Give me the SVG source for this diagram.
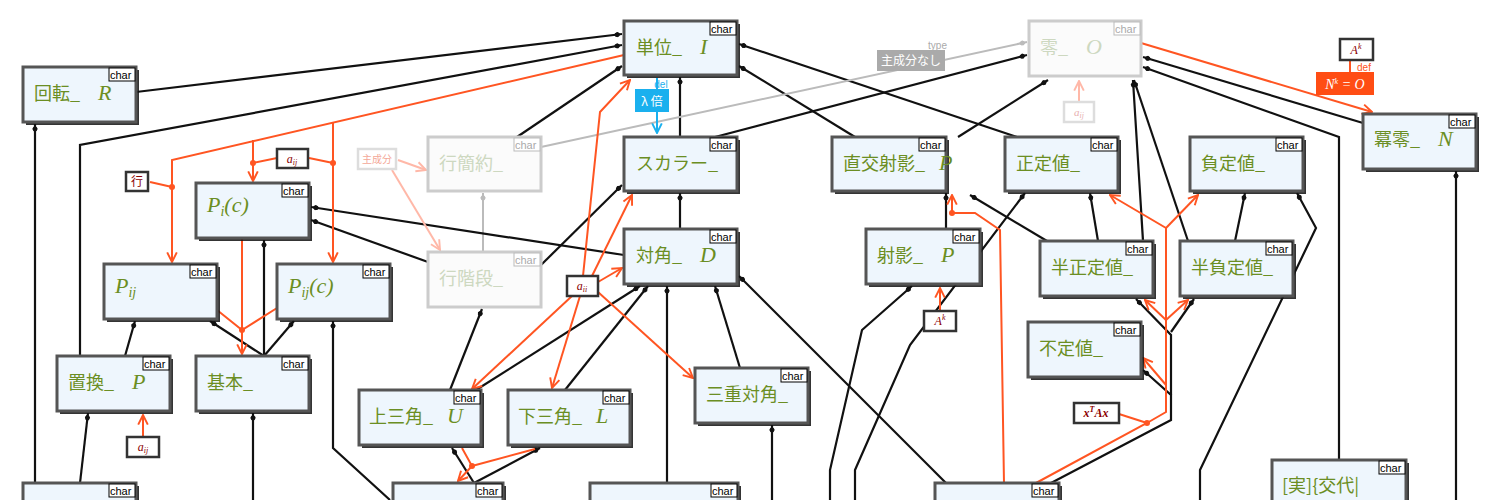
<svg xmlns="http://www.w3.org/2000/svg" width="1500" height="500" viewBox="0 0 1500 500">
<style>
.n rect.b{fill:#eef6fd;stroke:#555;stroke-width:3}
.n rect.s{fill:#111;opacity:.85}
.f rect.b{fill:#fbfbfb;stroke:#ccc;stroke-width:3}
.t{font-family:"Noto Sans CJK JP","Noto Sans",sans-serif;font-size:18px;fill:#6b8e23}
.f .t{fill:#cdd8c0}
.m{font-family:"Liberation Serif",serif;font-style:italic;font-size:22px}
.c{font-family:"Liberation Sans",sans-serif;font-size:11px;fill:#000}
.f .c{fill:#aaa}
.ct{fill:#fff;stroke:#000;stroke-width:1}
.f .ct{stroke:#bbb}
.k{fill:none;stroke:#111;stroke-width:2.2}
.g{fill:none;stroke:#bbb;stroke-width:2}
.o{fill:none;stroke:#ff5522;stroke-width:2}
.p{fill:none;stroke:#ffb8a8;stroke-width:2}
.lb rect{fill:#fff;stroke:#333;stroke-width:2.5}
.lb text{font-family:"Liberation Serif",serif;font-style:italic;font-size:12px;fill:#8b0000}
</style>
<defs>
<marker id="ak" viewBox="0 0 12 10" refX="11" refY="5" markerWidth="9" markerHeight="7.5" orient="auto" markerUnits="userSpaceOnUse"><path d="M0,5 L5,1.5 Q12,5 5,8.5 Z" fill="#111"/><circle cx="4" cy="5" r="3" fill="#111"/></marker>
<marker id="ag" viewBox="0 0 12 10" refX="11" refY="5" markerWidth="9" markerHeight="7.5" orient="auto" markerUnits="userSpaceOnUse"><path d="M0,5 L5,1.5 Q12,5 5,8.5 Z" fill="#bbb"/><circle cx="4" cy="5" r="3" fill="#bbb"/></marker>
<marker id="ao" viewBox="0 0 10 10" refX="9" refY="5" markerWidth="12" markerHeight="12" orient="auto" markerUnits="userSpaceOnUse"><path d="M1,1 L9,5 L1,9" fill="none" stroke="#ff5522" stroke-width="1.6"/></marker>
<marker id="ap" viewBox="0 0 10 10" refX="9" refY="5" markerWidth="12" markerHeight="12" orient="auto" markerUnits="userSpaceOnUse"><path d="M1,1 L9,5 L1,9" fill="none" stroke="#ffb8a8" stroke-width="1.6"/></marker>
<marker id="ab" viewBox="0 0 10 10" refX="9" refY="5" markerWidth="12" markerHeight="12" orient="auto" markerUnits="userSpaceOnUse"><path d="M1,1 L9,5 L1,9" fill="none" stroke="#1ab0ee" stroke-width="1.6"/></marker>
</defs>
<rect width="1500" height="500" fill="#fff"/>
<g id="connectors">
<path class="k" d="M136,92 L622,34" marker-end="url(#ak)"/>
<path class="k" d="M80,356 L80,145 L622,45" marker-end="url(#ak)"/>
<path class="k" d="M517,137 L622,66" marker-end="url(#ak)"/>
<path class="k" d="M680,137 L680,77" marker-end="url(#ak)"/>
<path class="k" d="M855,137 L739,66" marker-end="url(#ak)"/>
<path class="k" d="M1017,137 L739,44" marker-end="url(#ak)"/>
<path class="k" d="M715,137 L1027,55" marker-end="url(#ak)"/>
<path class="k" d="M958,137 L1048,80" marker-end="url(#ak)"/>
<path class="g" d="M541,147 L1027,42" marker-end="url(#ag)"/>
<path class="k" d="M1363,123 L1143,57" marker-end="url(#ak)"/>
<path class="k" d="M1339,500 L1339,137 L1143,67" marker-end="url(#ak)"/>
<path class="k" d="M1143,241 L1133,80" marker-end="url(#ak)"/>
<path class="k" d="M1188,241 L1134,80" marker-end="url(#ak)"/>
<path class="k" d="M855,500 L855,470 L910,345 L1025,193" marker-end="url(#ak)"/>
<path class="k" d="M830,500 L830,470 L862,330 L912,286" marker-end="url(#ak)"/>
<path class="k" d="M946,229 L946,193" marker-end="url(#ak)"/>
<path class="k" d="M1047,241 L970,195" marker-end="url(#ak)"/>
<path class="k" d="M1098,241 L1090,193" marker-end="url(#ak)"/>
<path class="k" d="M1235,241 L1245,193" marker-end="url(#ak)"/>
<path class="k" d="M1200,500 L1200,470 L1316,228 L1297,193" marker-end="url(#ak)"/>
<path class="k" d="M1456,500 L1456,171" marker-end="url(#ak)"/>
<path class="k" d="M1051,483 L1171,420 L1171,395 L1143,370" marker-end="url(#ak)"/>
<path class="k" d="M1171,395 L1171,335 L1136,299" marker-end="url(#ak)"/>
<path class="k" d="M1171,332 L1194,299" marker-end="url(#ak)"/>
<path class="k" d="M946,483 L739,276" marker-end="url(#ak)"/>
<path class="k" d="M772,500 L772,425" marker-end="url(#ak)"/>
<path class="k" d="M740,368 L715,286" marker-end="url(#ak)"/>
<path class="k" d="M667,483 L667,286" marker-end="url(#ak)"/>
<path class="k" d="M680,229 L680,193" marker-end="url(#ak)"/>
<path class="k" d="M450,390 L482,309" marker-end="url(#ak)"/>
<path class="k" d="M476,390 L640,286" marker-end="url(#ak)"/>
<path class="k" d="M565,390 L648,286" marker-end="url(#ak)"/>
<path class="k" d="M541,265 L622,185" marker-end="url(#ak)"/>
<path class="g" d="M483,252 L483,193" marker-end="url(#ag)"/>
<path class="k" d="M624,255 L311,207" marker-end="url(#ak)"/>
<path class="k" d="M428,262 L311,220" marker-end="url(#ak)"/>
<path class="k" d="M264,356 L210,321" marker-end="url(#ak)"/>
<path class="k" d="M264,356 L264,240" marker-end="url(#ak)"/>
<path class="k" d="M264,356 L294,321" marker-end="url(#ak)"/>
<path class="k" d="M125,356 L135,321" marker-end="url(#ak)"/>
<path class="k" d="M80,483 L88,413" marker-end="url(#ak)"/>
<path class="k" d="M35,483 L35,124" marker-end="url(#ak)"/>
<path class="k" d="M253,500 L253,413" marker-end="url(#ak)"/>
<path class="k" d="M390,500 L333,448 L333,321" marker-end="url(#ak)"/>
<path class="k" d="M474,483 L452,448" marker-end="url(#ak)"/>
<path class="k" d="M474,483 L540,448" marker-end="url(#ak)"/>
<path class="o" d="M462,448 L472,466 L458,481" marker-end="url(#ao)"/>
<path class="o" d="M535,449 L472,466"/>
<circle cx="472" cy="466" r="3" fill="#ff5522"/>
<path class="o" d="M624,55 L172,160 L172,262" marker-end="url(#ao)"/>
<path class="o" d="M253,140 L253,181" marker-end="url(#ao)"/>
<path class="o" d="M333,122 L333,262" marker-end="url(#ao)"/>
<path class="o" d="M150,182 L172,187"/><circle cx="172" cy="187" r="3" fill="#ff5522"/>
<path class="o" d="M277,158 L253,163"/><circle cx="253" cy="163" r="3" fill="#ff5522"/>
<path class="o" d="M309,158 L333,163"/><circle cx="333" cy="163" r="3" fill="#ff5522"/>
<path class="o" d="M242,238 L242,354" marker-end="url(#ao)"/>
<path class="o" d="M217,310 L242,330 L277,308"/><circle cx="242" cy="330" r="3" fill="#ff5522"/>
<path class="o" d="M583,276 L600,112 L630,80" marker-end="url(#ao)"/>
<path class="o" d="M580,296 L552,388" marker-end="url(#ao)"/>
<path class="o" d="M598,282 L622,268" marker-end="url(#ao)"/>
<path class="o" d="M592,276 L632,195" marker-end="url(#ao)"/>
<path class="o" d="M572,296 L472,389" marker-end="url(#ao)"/>
<path class="o" d="M598,292 L693,378" marker-end="url(#ao)"/>
<path class="o" d="M940,310 L940,288" marker-end="url(#ao)"/>
<path class="o" d="M1036,483 L1147,423 L1166,412 L1166,320"/>
<path class="o" d="M1166,320 L1145,300" marker-end="url(#ao)"/>
<path class="o" d="M1166,320 L1188,300" marker-end="url(#ao)"/>
<path class="o" d="M1166,385 L1143,358" marker-end="url(#ao)"/>
<path class="o" d="M1166,320 L1166,228 L1110,195" marker-end="url(#ao)"/>
<path class="o" d="M1166,228 L1198,195" marker-end="url(#ao)"/>
<path class="o" d="M1119,414 L1147,423"/><circle cx="1147" cy="423" r="3" fill="#ff5522"/>
<path class="o" d="M1004,483 L1000,230 L975,213 L952,213 L952,195" marker-end="url(#ao)"/>
<circle cx="952" cy="213" r="3" fill="#ff5522"/>
<path class="o" d="M1141,43 L1372,112" marker-end="url(#ao)"/>
<path class="o" d="M1350,60 L1350,72"/>
<path class="o" d="M143,437 L143,415" marker-end="url(#ao)"/>
<path class="p" d="M398,160 L426,170" marker-end="url(#ap)"/>
<path class="p" d="M392,170 L440,250" marker-end="url(#ap)"/>
<path class="p" d="M1079,102 L1079,81" marker-end="url(#ap)"/>
<path d="M657,78 L657,133" fill="none" stroke="#1ab0ee" stroke-width="2" marker-end="url(#ab)"/>
</g>
<g id="labels">
<g class="lb"><rect x="126" y="172" width="22" height="19"/><text x="137" y="186" text-anchor="middle" style="font-style:normal;font-family:'Noto Sans CJK JP',sans-serif">行</text></g>
<g class="lb"><rect x="277" y="149" width="31" height="19"/><text x="292" y="163" text-anchor="middle">a<tspan font-size="8" dy="2">ij</tspan></text></g>
<g class="lb"><rect x="567" y="276" width="31" height="20"/><text x="582" y="290" text-anchor="middle">a<tspan font-size="8" dy="2">ii</tspan></text></g>
<g class="lb"><rect x="924" y="311" width="32" height="20"/><text x="940" y="325" text-anchor="middle">A<tspan font-size="8" dy="-5">k</tspan></text></g>
<g class="lb"><rect x="127" y="437" width="32" height="20"/><text x="143" y="451" text-anchor="middle">a<tspan font-size="8" dy="2">ij</tspan></text></g>
<g class="lb"><rect x="1074" y="403" width="45" height="20"/><text x="1096" y="417" text-anchor="middle" style="font-weight:bold">x<tspan font-size="8" dy="-5">T</tspan><tspan dy="5">Ax</tspan></text></g>
<g class="lb"><rect x="1340" y="39" width="33" height="21"/><text x="1356" y="54" text-anchor="middle">A<tspan font-size="8" dy="-5">k</tspan></text></g>
<g><rect x="358" y="149" width="38" height="20" fill="#fff" stroke="#ddd" stroke-width="2.5"/><text x="377" y="163" text-anchor="middle" font-family="Noto Sans CJK JP,sans-serif" font-size="10" fill="#f4a898">主成分</text></g>
<g><rect x="1064" y="102" width="30" height="20" fill="#fff" stroke="#ddd" stroke-width="2.5"/><text x="1079" y="116" text-anchor="middle" font-family="Liberation Serif,serif" font-style="italic" font-size="11" fill="#e8b0b0">a<tspan font-size="8" dy="2">ij</tspan></text></g>
<g><rect x="877" y="50" width="68" height="21" fill="#aaa"/><text x="911" y="65" text-anchor="middle" font-family="Noto Sans CJK JP,sans-serif" font-size="12" fill="#fff">主成分なし</text><text x="947" y="49" text-anchor="end" font-family="Liberation Sans,sans-serif" font-size="10" fill="#aaa">type</text></g>
<g><rect x="635" y="89" width="34" height="23" fill="#1ab0ee"/><text x="652" y="106" text-anchor="middle" font-family="Noto Sans CJK JP,sans-serif" font-size="12" fill="#fff">λ 倍</text><text x="661" y="88" text-anchor="middle" font-family="Liberation Sans,sans-serif" font-size="10" fill="#1ab0ee">del</text></g>
<g><rect x="1316" y="72" width="58" height="23" fill="#ff4d14"/><text x="1345" y="89" text-anchor="middle" font-family="Liberation Serif,serif" font-style="italic" font-size="14" fill="#fff">N<tspan font-size="8" dy="-5">k</tspan><tspan dy="5"> = O</tspan></text><text x="1364" y="71" text-anchor="middle" font-family="Liberation Sans,sans-serif" font-size="10" fill="#ff5522">def</text></g>
</g>
<g id="n-tani" class="n"><rect class="s" x="627" y="24" width="113" height="54"/><rect class="b" x="624" y="21" width="113" height="54"/><rect class="ct" x="710" y="22" width="26" height="13"/><text class="c" x="711" y="33">char</text><text class="t" x="636" y="54">単位_ <tspan class="m" dx="14">I</tspan></text></g>
<g id="n-kaiten" class="n"><rect class="s" x="26" y="70" width="113" height="55"/><rect class="b" x="23" y="67" width="113" height="55"/><rect class="ct" x="109" y="68" width="26" height="13"/><text class="c" x="110" y="79">char</text><text class="t" x="34" y="100">回転_ <tspan class="m" dx="14">R</tspan></text></g>
<g id="n-zero" class="f"><rect class="b" x="1029" y="21" width="112" height="55"/><rect class="ct" x="1114" y="22" width="26" height="13"/><text class="c" x="1115" y="33">char</text><text class="t" x="1040" y="54">零_ <tspan class="m" dx="14">O</tspan></text></g>
<g id="n-bekirei" class="n"><rect class="s" x="1366" y="117" width="113" height="55"/><rect class="b" x="1363" y="114" width="113" height="55"/><rect class="ct" x="1449" y="115" width="26" height="13"/><text class="c" x="1450" y="126">char</text><text class="t" x="1374" y="146">冪零_ <tspan class="m" dx="14">N</tspan></text></g>
<g id="n-gyokanyaku" class="f"><rect class="b" x="428" y="137" width="113" height="54"/><rect class="ct" x="514" y="138" width="26" height="13"/><text class="c" x="515" y="149">char</text><text class="t" x="439" y="170">行簡約_</text></g>
<g id="n-scalar" class="n"><rect class="s" x="627" y="140" width="113" height="54"/><rect class="b" x="624" y="137" width="113" height="54"/><rect class="ct" x="710" y="138" width="26" height="13"/><text class="c" x="711" y="149">char</text><text class="t" x="636" y="170">スカラー_</text></g>
<g id="n-chokko" class="n"><rect class="s" x="835" y="140" width="114" height="54"/><rect class="b" x="832" y="137" width="114" height="54"/><rect class="ct" x="919" y="138" width="26" height="13"/><text class="c" x="920" y="149">char</text><text class="t" x="843" y="170">直交射影_ <tspan class="m" dx="10">P</tspan></text></g>
<g id="n-seitei" class="n"><rect class="s" x="1008" y="140" width="113" height="54"/><rect class="b" x="1005" y="137" width="113" height="54"/><rect class="ct" x="1091" y="138" width="26" height="13"/><text class="c" x="1092" y="149">char</text><text class="t" x="1016" y="170">正定値_</text></g>
<g id="n-futei" class="n"><rect class="s" x="1193" y="140" width="113" height="54"/><rect class="b" x="1190" y="137" width="113" height="54"/><rect class="ct" x="1276" y="138" width="26" height="13"/><text class="c" x="1277" y="149">char</text><text class="t" x="1201" y="170">負定値_</text></g>
<g id="n-pic" class="n"><rect class="s" x="199" y="186" width="113" height="55"/><rect class="b" x="196" y="183" width="113" height="55"/><rect class="ct" x="282" y="184" width="26" height="13"/><text class="c" x="283" y="195">char</text><text class="t m" x="207" y="212">P<tspan font-size="14" dy="4">i</tspan><tspan dy="-4">(c)</tspan></text></g>
<g id="n-taikaku" class="n"><rect class="s" x="627" y="232" width="113" height="55"/><rect class="b" x="624" y="229" width="113" height="55"/><rect class="ct" x="710" y="230" width="26" height="13"/><text class="c" x="711" y="241">char</text><text class="t" x="636" y="262">対角_ <tspan class="m" dx="14">D</tspan></text></g>
<g id="n-shaei" class="n"><rect class="s" x="869" y="232" width="114" height="55"/><rect class="b" x="866" y="229" width="114" height="55"/><rect class="ct" x="953" y="230" width="26" height="13"/><text class="c" x="954" y="241">char</text><text class="t" x="877" y="262">射影_ <tspan class="m" dx="14">P</tspan></text></g>
<g id="n-hanseitei" class="n"><rect class="s" x="1043" y="244" width="113" height="55"/><rect class="b" x="1040" y="241" width="113" height="55"/><rect class="ct" x="1126" y="242" width="26" height="13"/><text class="c" x="1127" y="253">char</text><text class="t" x="1051" y="274">半正定値_</text></g>
<g id="n-hanfutei" class="n"><rect class="s" x="1183" y="244" width="113" height="55"/><rect class="b" x="1180" y="241" width="113" height="55"/><rect class="ct" x="1266" y="242" width="26" height="13"/><text class="c" x="1267" y="253">char</text><text class="t" x="1191" y="274">半負定値_</text></g>
<g id="n-pij" class="n"><rect class="s" x="107" y="267" width="113" height="55"/><rect class="b" x="104" y="264" width="113" height="55"/><rect class="ct" x="190" y="265" width="26" height="13"/><text class="c" x="191" y="276">char</text><text class="t m" x="115" y="293">P<tspan font-size="14" dy="4">ij</tspan></text></g>
<g id="n-pijc" class="n"><rect class="s" x="280" y="267" width="113" height="55"/><rect class="b" x="277" y="264" width="113" height="55"/><rect class="ct" x="363" y="265" width="26" height="13"/><text class="c" x="364" y="276">char</text><text class="t m" x="288" y="293">P<tspan font-size="14" dy="4">ij</tspan><tspan dy="-4">(c)</tspan></text></g>
<g id="n-gyokaidan" class="f"><rect class="b" x="428" y="252" width="113" height="55"/><rect class="ct" x="514" y="253" width="26" height="13"/><text class="c" x="515" y="264">char</text><text class="t" x="439" y="285">行階段_</text></g>
<g id="n-futeichi" class="n"><rect class="s" x="1031" y="325" width="113" height="55"/><rect class="b" x="1028" y="322" width="113" height="55"/><rect class="ct" x="1114" y="323" width="26" height="13"/><text class="c" x="1115" y="334">char</text><text class="t" x="1039" y="355">不定値_</text></g>
<g id="n-chikan" class="n"><rect class="s" x="60" y="359" width="113" height="55"/><rect class="b" x="57" y="356" width="113" height="55"/><rect class="ct" x="143" y="357" width="26" height="13"/><text class="c" x="144" y="368">char</text><text class="t" x="68" y="389">置換_ <tspan class="m" dx="14">P</tspan></text></g>
<g id="n-kihon" class="n"><rect class="s" x="199" y="359" width="113" height="55"/><rect class="b" x="196" y="356" width="113" height="55"/><rect class="ct" x="282" y="357" width="26" height="13"/><text class="c" x="283" y="368">char</text><text class="t" x="207" y="389">基本_</text></g>
<g id="n-ue" class="n"><rect class="s" x="362" y="393" width="122" height="55"/><rect class="b" x="359" y="390" width="122" height="55"/><rect class="ct" x="454" y="391" width="26" height="13"/><text class="c" x="455" y="402">char</text><text class="t" x="369" y="423">上三角_ <tspan class="m" dx="10">U</tspan></text></g>
<g id="n-shita" class="n"><rect class="s" x="511" y="393" width="122" height="55"/><rect class="b" x="508" y="390" width="122" height="55"/><rect class="ct" x="603" y="391" width="26" height="13"/><text class="c" x="604" y="402">char</text><text class="t" x="518" y="423">下三角_ <tspan class="m" dx="10">L</tspan></text></g>
<g id="n-sanju" class="n"><rect class="s" x="698" y="371" width="113" height="55"/><rect class="b" x="695" y="368" width="113" height="55"/><rect class="ct" x="781" y="369" width="26" height="13"/><text class="c" x="782" y="380">char</text><text class="t" x="706" y="401">三重対角_</text></g>
<g id="n-b1" class="n"><rect class="s" x="26" y="486" width="113" height="55"/><rect class="b" x="23" y="483" width="113" height="55"/><rect class="ct" x="109" y="484" width="26" height="13"/><text class="c" x="110" y="495">char</text></g>
<g id="n-b2" class="n"><rect class="s" x="396" y="486" width="110" height="55"/><rect class="b" x="393" y="483" width="110" height="55"/><rect class="ct" x="476" y="484" width="26" height="13"/><text class="c" x="477" y="495">char</text></g>
<g id="n-b3" class="n"><rect class="s" x="593" y="486" width="148" height="55"/><rect class="b" x="590" y="483" width="148" height="55"/><rect class="ct" x="711" y="484" width="26" height="13"/><text class="c" x="712" y="495">char</text></g>
<g id="n-b4" class="n"><rect class="s" x="938" y="486" width="124" height="55"/><rect class="b" x="935" y="483" width="124" height="55"/><rect class="ct" x="1032" y="484" width="26" height="13"/><text class="c" x="1033" y="495">char</text></g>
<g id="n-b5" class="n"><rect class="s" x="1275" y="463" width="134" height="55"/><rect class="b" x="1272" y="460" width="134" height="55"/><rect class="ct" x="1379" y="461" width="26" height="13"/><text class="c" x="1380" y="472">char</text><text class="t" x="1282" y="492">[実]{交代|</text></g>
</svg>
